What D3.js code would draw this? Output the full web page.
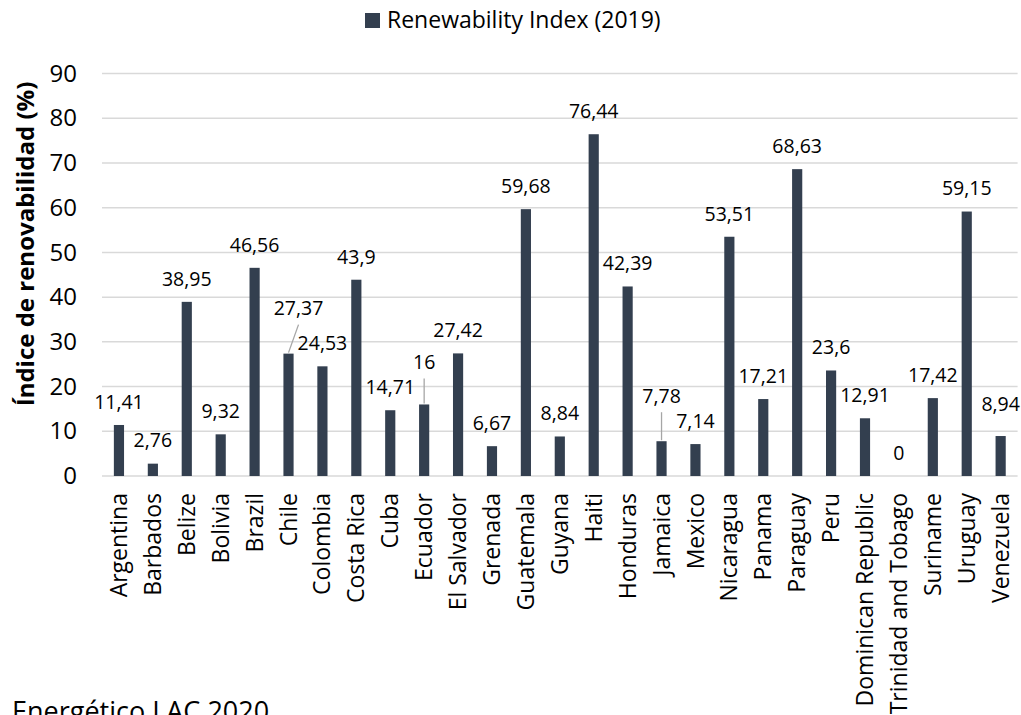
<!DOCTYPE html>
<html>
<head>
<meta charset="utf-8">
<script src="https://cdn.jsdelivr.net/npm/d3@7"></script>
<style>
  body { margin: 0; background: #fff; }
  svg { display: block; font-family: "Open Sans", sans-serif; }
</style>
</head>
<body>
<div id="chart"></div>
<script>
// datos: índice de renovabilidad 2019 por país
const countries = ["Argentina", "Barbados", "Belize", "Bolivia", "Brazil", "Chile", "Colombia",
  "Costa Rica", "Cuba", "Ecuador", "El Salvador", "Grenada", "Guatemala", "Guyana", "Haiti",
  "Honduras", "Jamaica", "Mexico", "Nicaragua", "Panama", "Paraguay", "Peru",
  "Dominican Republic", "Trinidad and Tobago", "Suriname", "Uruguay", "Venezuela"];
const values = [11.41, 2.76, 38.95, 9.32, 46.56, 27.37, 24.53, 43.9, 14.71, 16, 27.42, 6.67,
  59.68, 8.84, 76.44, 42.39, 7.78, 7.14, 53.51, 17.21, 68.63, 23.6, 12.91, 0, 17.42, 59.15, 8.94];
const yTicks = [0, 10, 20, 30, 40, 50, 60, 70, 80, 90];
const seriesName = "Renewability Index (2019)";

// etiquetas movidas a mano (como en el Excel original) -> [dx, dy, con línea guía]
const labelNudge = {
  "Chile": [10, -45, true],
  "Ecuador": [0, -42, true],
  "Jamaica": [0, -45, true],
  "Venezuela": [0, -32, false]
};

const W = 1021, H = 715;
const plot = { left: 102, right: 1017.6, top: 73.6, bottom: 476 };
const barColor = "#333F4F";

const svg = d3.select("#chart").append("svg")
  .attr("width", W).attr("height", H);

const data = countries.map((c, i) => ({ country: c, value: values[i] }));

const x = d3.scaleBand()
  .domain(countries)
  .range([plot.left, plot.right])
  .paddingInner(0.7)
  .paddingOuter(0.35);

const y = d3.scaleLinear()
  .domain([0, 90])
  .range([plot.bottom, plot.top]);

// líneas de grilla
svg.append("g")
  .selectAll("line")
  .data(yTicks)
  .join("line")
    .attr("x1", plot.left).attr("x2", plot.right)
    .attr("y1", d => y(d)).attr("y2", d => y(d))
    .attr("stroke", "#D9D9D9")
    .attr("stroke-width", 1.5);

// eje Y (solo etiquetas)
const yAxis = svg.append("g")
  .attr("transform", `translate(${plot.left},0)`)
  .call(d3.axisLeft(y).tickValues(yTicks).tickSize(0).tickPadding(25));
yAxis.select(".domain").remove();
yAxis.selectAll("text")
  .style("font-size", "24px")
  .style("fill", "#000")
  .style("font-family", "'Open Sans', sans-serif");

// eje X, etiquetas rotadas
const xAxis = svg.append("g")
  .attr("transform", `translate(0,${plot.bottom})`)
  .call(d3.axisBottom(x).tickSize(0).tickPadding(0));
xAxis.select(".domain").remove();
xAxis.selectAll("text")
  .attr("transform", "rotate(-90)")
  .attr("x", -17)
  .attr("y", 0)
  .attr("dy", "0.35em")
  .attr("text-anchor", "end")
  .style("font-size", "23px")
  .style("fill", "#000")
  .style("font-family", "'Open Sans', sans-serif");

// barras
svg.append("g")
  .selectAll("rect")
  .data(data)
  .join("rect")
    .attr("x", d => x(d.country))
    .attr("y", d => y(d.value))
    .attr("width", x.bandwidth())
    .attr("height", d => y(0) - y(d.value))
    .attr("fill", barColor);

// líneas guía de etiquetas
svg.append("g")
  .selectAll("line")
  .data(data.filter(d => labelNudge[d.country] && labelNudge[d.country][2]))
  .join("line")
    .attr("x1", d => x(d.country) + x.bandwidth() / 2)
    .attr("y1", d => y(d.value) - 1)
    .attr("x2", d => x(d.country) + x.bandwidth() / 2 + labelNudge[d.country][0])
    .attr("y2", d => y(d.value) + labelNudge[d.country][1] + 16)
    .attr("stroke", "#A6A6A6")
    .attr("stroke-width", 1.3);

// etiquetas de datos (coma decimal)
const fmt = v => String(v).replace(".", ",");
svg.append("g")
  .selectAll("text")
  .data(data)
  .join("text")
    .attr("x", d => x(d.country) + x.bandwidth() / 2 + (labelNudge[d.country] ? labelNudge[d.country][0] : 0))
    .attr("y", d => y(d.value) + (labelNudge[d.country] ? labelNudge[d.country][1] : -23))
    .attr("dy", "0.35em")
    .attr("text-anchor", "middle")
    .style("font-size", "19.5px")
    .style("fill", "#000")
    .text(d => fmt(d.value));

// título eje Y
svg.append("text")
  .attr("transform", `translate(34,${(78 + 410) / 2}) rotate(-90)`)
  .attr("text-anchor", "middle")
  .style("font-size", "24px")
  .style("font-weight", "bold")
  .style("fill", "#000")
  .text("Índice de renovabilidad (%)");

// leyenda
const legend = svg.append("g").attr("transform", "translate(365,13)");
legend.append("rect")
  .attr("width", 15).attr("height", 15)
  .attr("fill", barColor);
legend.append("text")
  .attr("x", 22).attr("y", 15)
  .style("font-size", "23px")
  .style("fill", "#000")
  .text(seriesName);

// texto de fuente, cortado en el borde inferior (igual que en la imagen original)
svg.append("text")
  .attr("x", 12).attr("y", 721)
  .style("font-size", "27px")
  .style("fill", "#000")
  .text("Energético LAC 2020");
</script>
</body>
</html>
